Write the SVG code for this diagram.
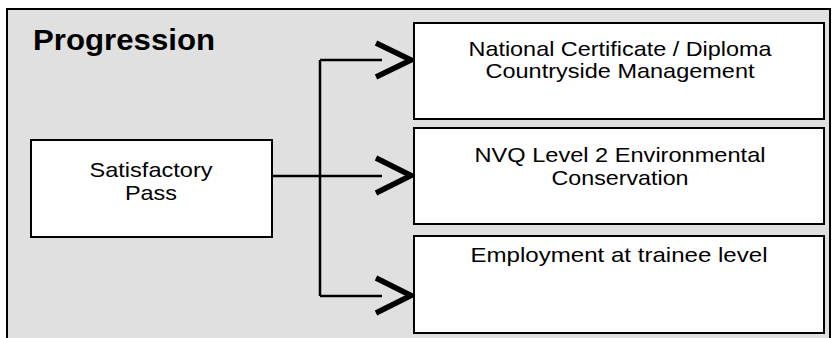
<svg xmlns="http://www.w3.org/2000/svg" width="840" height="338" viewBox="0 0 840 338">
<style>
.box{fill:#ffffff;stroke:#000000;stroke-width:2}
.t{font-family:"Liberation Sans",Arial,sans-serif;font-size:21px;fill:#000000;text-anchor:middle}
.title{font-family:"Liberation Sans",Arial,sans-serif;font-size:29px;font-weight:bold;fill:#000000}
.ln{fill:none;stroke:#000000;stroke-width:2.5}
.hd{fill:none;stroke:#000000;stroke-width:5.5;stroke-linecap:butt;stroke-linejoin:miter}
</style>
<rect width="840" height="338" fill="#ffffff"/>
<g id="panel">
<rect x="7" y="9" width="823" height="345" fill="#e0e0e0" stroke="#000000" stroke-width="2"/>
<text class="title" x="33" y="50" textLength="182" lengthAdjust="spacingAndGlyphs">Progression</text>
</g>
<g id="connectors">
<path class="ln" d="M272 176 H382 M320 60 V296 M320 60 H382 M320 296 H382"/>
<path class="hd" d="M376 43 L411 60 L376 77"/>
<path class="hd" d="M376 158 L411 175.5 L376 193"/>
<path class="hd" d="M376 278 L411 295.5 L376 313"/>
</g>
<g id="satisfactory">
<rect class="box" x="31" y="140" width="241" height="97"/>
<text class="t" x="151" y="177" textLength="123" lengthAdjust="spacingAndGlyphs">Satisfactory</text>
<text class="t" x="151" y="200" textLength="52" lengthAdjust="spacingAndGlyphs">Pass</text>
</g>
<g id="national">
<rect class="box" x="414" y="23" width="410" height="96"/>
<text class="t" x="620" y="56" textLength="303" lengthAdjust="spacingAndGlyphs">National Certificate / Diploma</text>
<text class="t" x="620" y="78" textLength="269" lengthAdjust="spacingAndGlyphs">Countryside Management</text>
</g>
<g id="nvq">
<rect class="box" x="414" y="128" width="410" height="96"/>
<text class="t" x="620" y="162" textLength="291" lengthAdjust="spacingAndGlyphs">NVQ Level 2 Environmental</text>
<text class="t" x="620" y="185" textLength="137" lengthAdjust="spacingAndGlyphs">Conservation</text>
</g>
<g id="employment">
<rect class="box" x="414" y="236" width="410" height="97"/>
<text class="t" x="619" y="262" textLength="297" lengthAdjust="spacingAndGlyphs">Employment at trainee level</text>
</g>
</svg>
